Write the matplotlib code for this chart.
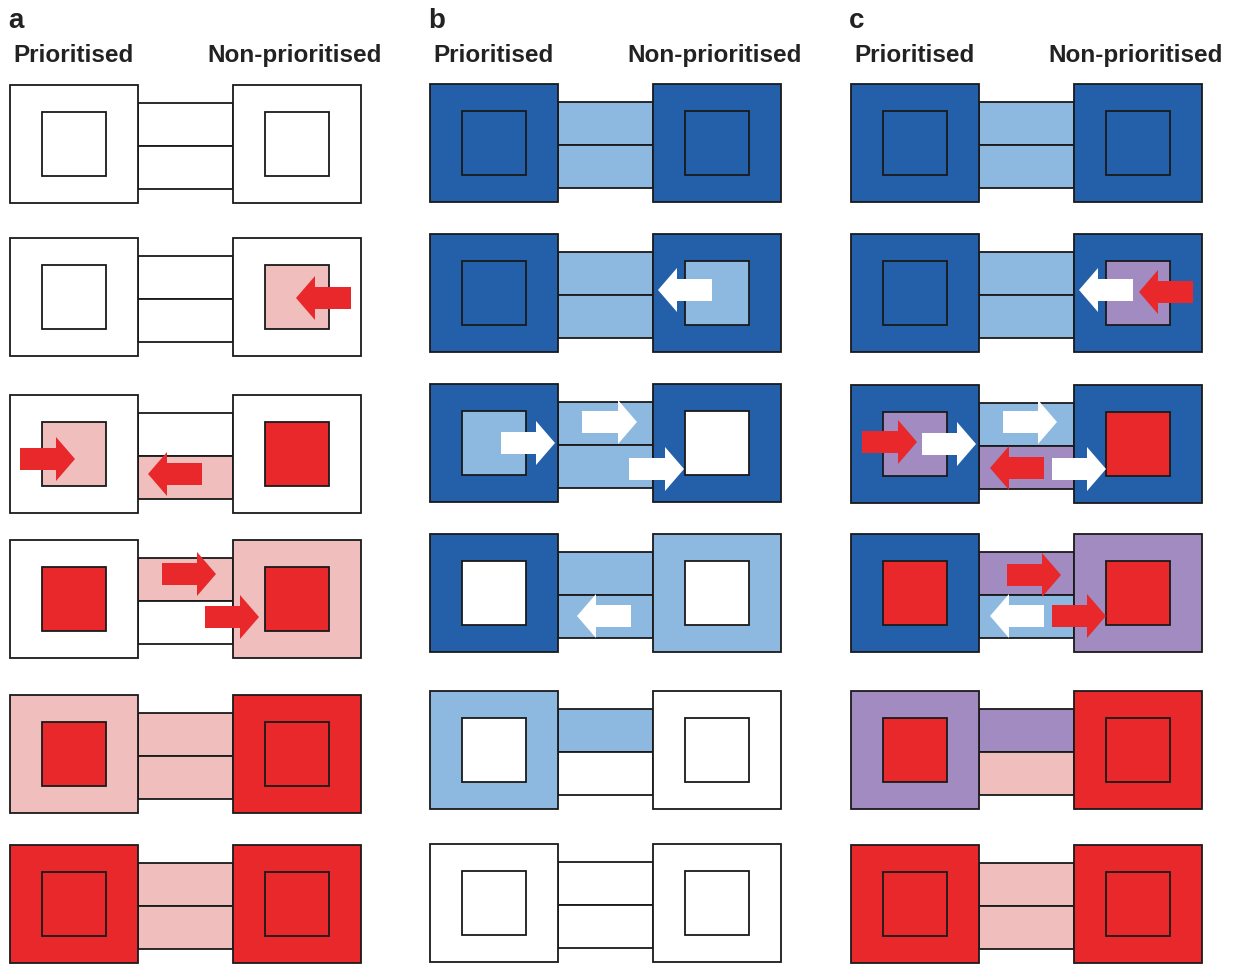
import matplotlib
matplotlib.use("Agg")
import matplotlib.pyplot as plt
from matplotlib.patches import Rectangle, Polygon

# colour codes used in the state strings
colours = {
    "W": "#FFFFFF",   # empty
    "D": "#2460AA",   # dark blue
    "L": "#8DB8DF",   # light blue
    "R": "#E8282B",   # red
    "P": "#F1BEBE",   # pink
    "U": "#A28BC0",   # purple
}

panel_labels = ["a", "b", "c"]
panel_x0 = [10, 430, 851]
col_titles = ["Prioritised", "Non-prioritised"]

# top edge of each row of boxes, per panel
row_tops_a = [85, 238, 395, 540, 695, 845]
row_tops_b = [84, 234, 384, 534, 691, 844]
row_tops_c = [84, 234, 385, 534, 691, 845]

# per row: outer left, inner left, channel top, channel bottom, outer right, inner right
states_a = ["WWWWWW", "WWWWWP", "WPWPWR", "WRPWPR", "PRPPRR", "RRPPRR"]
states_b = ["DDLLDD", "DDLLDL", "DLLLDW", "DWLLLW", "LWLWWW", "WWWWWW"]
states_c = ["DDLLDD", "DDLLDU", "DULUDR", "DRULUR", "URUPRR", "RRPPRR"]

# arrows: (row, tail x, tip x, centre y) relative to panel x0 and row top, colour
arrows_a = [
    (1, 341, 286, 60, "R"),
    (2, 10, 65, 64, "R"),
    (2, 192, 138, 79, "R"),
    (3, 152, 206, 34, "R"),
    (3, 195, 249, 77, "R"),
]
arrows_b = [
    (1, 282, 228, 56, "W"),
    (2, 71, 125, 59, "W"),
    (2, 152, 207, 38, "W"),
    (2, 199, 254, 85, "W"),
    (3, 201, 147, 82, "W"),
]
arrows_c = [
    (1, 282, 228, 56, "W"),
    (1, 342, 288, 58, "R"),
    (2, 11, 66, 57, "R"),
    (2, 71, 125, 59, "W"),
    (2, 152, 206, 37, "W"),
    (2, 193, 139, 83, "R"),
    (2, 201, 255, 84, "W"),
    (3, 156, 210, 41, "R"),
    (3, 193, 139, 82, "W"),
    (3, 201, 255, 82, "R"),
]

BOX = 128      # outer square side (px)
BOX_H = 118
GAP = 95       # channel length
INNER = 64
EDGE = "#1a1a1a"
LW = 1.3


def draw_arrow(ax, tail, tip, yc, colour):
    d = 1 if tip > tail else -1
    base = tip - d * 19
    pts = [(tail, yc - 11), (base, yc - 11), (base, yc - 22), (tip, yc),
           (base, yc + 22), (base, yc + 11), (tail, yc + 11)]
    ax.add_patch(Polygon(pts, closed=True, facecolor=colours[colour],
                         edgecolor="none", zorder=5))


def draw_panel(ax, x0, tops, states, arrows):
    for top, st in zip(tops, states):
        xl = x0
        xr = x0 + BOX + GAP
        # channel, two lanes
        ax.add_patch(Rectangle((xl + BOX, top + 18), GAP, 43, facecolor=colours[st[2]],
                               edgecolor=EDGE, lw=LW, zorder=1))
        ax.add_patch(Rectangle((xl + BOX, top + 61), GAP, 43, facecolor=colours[st[3]],
                               edgecolor=EDGE, lw=LW, zorder=1))
        # outer boxes
        ax.add_patch(Rectangle((xl, top), BOX, BOX_H, facecolor=colours[st[0]],
                               edgecolor=EDGE, lw=LW, zorder=2))
        ax.add_patch(Rectangle((xr, top), BOX, BOX_H, facecolor=colours[st[4]],
                               edgecolor=EDGE, lw=LW, zorder=2))
        # inner boxes
        ax.add_patch(Rectangle((xl + 32, top + 27), INNER, INNER, facecolor=colours[st[1]],
                               edgecolor=EDGE, lw=LW, zorder=3))
        ax.add_patch(Rectangle((xr + 32, top + 27), INNER, INNER, facecolor=colours[st[5]],
                               edgecolor=EDGE, lw=LW, zorder=3))
    for row, tail, tip, yc, col in arrows:
        draw_arrow(ax, x0 + tail, x0 + tip, tops[row] + yc, col)


fig = plt.figure(figsize=(12.42, 9.64), dpi=100)
ax = fig.add_axes([0, 0, 1, 1])
ax.set_xlim(0, 1242)
ax.set_ylim(964, 0)
ax.axis("off")

all_tops = [row_tops_a, row_tops_b, row_tops_c]
all_states = [states_a, states_b, states_c]
all_arrows = [arrows_a, arrows_b, arrows_c]

for lab, x0, tops, st, arr in zip(panel_labels, panel_x0, all_tops, all_states, all_arrows):
    draw_panel(ax, x0, tops, st, arr)
    ax.text(x0 - 2, 28, lab, fontsize=20, fontweight="bold",
            family="Liberation Sans", color="#222222", va="baseline", ha="left")
    ax.text(x0 + 3, 62, col_titles[0], fontsize=17.5, fontweight="bold",
            family="Liberation Sans", color="#222222", va="baseline", ha="left")
    ax.text(x0 + 197, 62, col_titles[1], fontsize=17.5, fontweight="bold",
            family="Liberation Sans", color="#222222", va="baseline", ha="left")

fig.savefig("out.png", dpi=100)
